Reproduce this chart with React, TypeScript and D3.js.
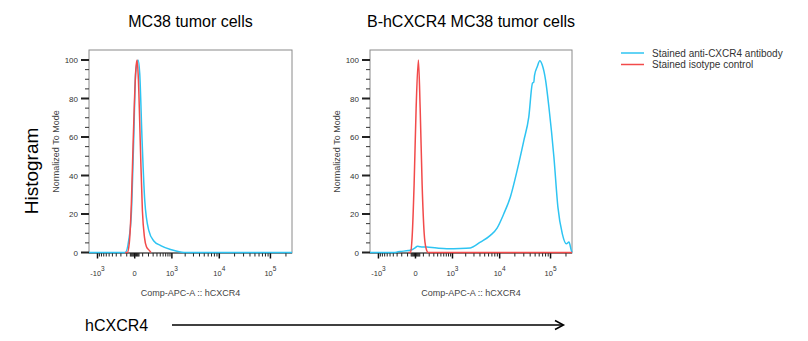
import React from "react";
import * as d3 from "d3";

const W = 808;
const H = 341;

const panelTitles = ["MC38 tumor cells", "B-hCXCR4 MC38 tumor cells"];
const seriesNames = ["Stained anti-CXCR4 antibody", "Stained isotype control"];
const seriesColors = ["#2ec4f2", "#f24a4a"];
const xDomain = [-1570, 262144];
const xMajorTicks = [-1000, 0, 1000, 10000, 100000];
const xTickBase = ["-10", "0", "10", "10", "10"];
const xTickExp = ["3", "", "3", "4", "5"];
const yMajorTicks = [0, 20, 40, 60, 80, 100];
const yMinorTicks = [5, 10, 15, 25, 30, 35, 45, 50, 55, 65, 70, 75, 85, 90, 95];
const xTitle = "Comp-APC-A :: hCXCR4";
const yTitle = "Normalized To Mode";

// Panel 1: MC38 tumor cells
const mc38AntiX = [-1570, -123, -73, -38, -11, 10, 38, 59, 92, 133, 205, 316, 515, 980, 1890, 262144];
const mc38AntiY = [0, 0, 6, 20, 58, 93, 100, 93, 58, 27, 11.5, 6, 3.6, 1.4, 0, 0];
const mc38IsoX = [-123, -92, -64, -38, -15, 12, 26, 42, 68, 96, 128, 162, 220, 249];
const mc38IsoY = [0, 0, 5, 25, 60, 95, 100, 90, 55, 22, 8, 3, 1, 0];

// Panel 2: B-hCXCR4 MC38 tumor cells
const hAntiX = [-1570, -917, -500, -352, -309, -234, -88, -42, -4, 22, 55, 157, 379, 728, 1517, 2510, 4070, 6517, 8885, 12040, 16370, 22200, 29960, 37600, 44400, 47100, 48650, 55000, 61800, 68900, 80000, 92800, 116300, 139200, 169800, 203300, 228400, 254500, 262144];
const hAntiY = [0, 0, 0, 0, 0.2, 0.5, 1, 1.4, 2.4, 3.3, 3, 2.8, 2.3, 2, 2.1, 2.4, 5.4, 8.9, 12.7, 20, 29, 42.7, 58, 70.5, 88, 88.5, 92, 96.5, 99.6, 97.4, 89.6, 75.7, 49.6, 23.6, 9.7, 4.5, 5.4, 1, 0];
const hIsoX = [-88, -57, -38, -15, 7, 33, 55, 82, 112, 144, 181, 262144];
const hIsoY = [0, 0, 8, 35, 75, 100, 75, 35, 10, 2, 0, 0];

const panelData = [
  { anti: [mc38AntiX, mc38AntiY], iso: [mc38IsoX, mc38IsoY] },
  { anti: [hAntiX, hAntiY], iso: [hIsoX, hIsoY] },
];

const FONT = "'Liberation Sans', Arial, Helvetica, sans-serif";

function minorXTicks(): number[] {
  const out: number[] = [];
  for (const d of [10, 100, 1000, 10000, 100000]) {
    for (let k = 1; k <= 9; k++) {
      if (d === 10 && k > 5) continue;
      const v = k * d;
      if (!xMajorTicks.includes(v) && v <= xDomain[1]) out.push(v);
      if (!xMajorTicks.includes(-v) && -v >= xDomain[0]) out.push(-v);
    }
  }
  return out;
}

function Panel({ left, right, idx }: { left: number; right: number; idx: number }) {
  const top = 50;
  const bottom = 253;
  const x = d3.scaleSymlog().constant(235).domain(xDomain).range([left, right]);
  const y = d3.scaleLinear().domain([0, 100]).range([252.5, 60]);
  const line = d3
    .line<[number, number]>()
    .x((d) => x(d[0]))
    .y((d) => y(d[1]))
    .curve(d3.curveMonotoneX);
  const data = panelData[idx];
  const mk = (arr: number[][]) => arr[0].map((v, i) => [v, arr[1][i]] as [number, number]);
  const cx = (left + right) / 2;
  const minors = minorXTicks();
  return (
    <g>
      <text x={cx} y={27} textAnchor="middle" fontSize={16} fontFamily={FONT} fill="#000">
        {panelTitles[idx]}
      </text>
      <rect x={left} y={top} width={right - left} height={bottom - top} fill="none" stroke="#8a8a8a" strokeWidth={1} />
      <line x1={left} x2={right} y1={bottom} y2={bottom} stroke="#333" strokeWidth={1} />
      {yMinorTicks.map((t) => (
        <line key={"ym" + t} x1={left - 4} x2={left} y1={y(t)} y2={y(t)} stroke="#333" strokeWidth={1} />
      ))}
      {yMajorTicks.map((t) => (
        <g key={"yM" + t}>
          <line x1={left - 8} x2={left} y1={y(t)} y2={y(t)} stroke="#222" strokeWidth={2} />
          <text x={left - 11} y={y(t) + 3} textAnchor="end" fontSize={8} fontFamily={FONT} fill="#333">
            {t}
          </text>
        </g>
      ))}
      <text
        transform={`translate(${left - 30},${(top + bottom) / 2}) rotate(-90)`}
        textAnchor="middle"
        fontSize={9}
        fontFamily={FONT}
        fill="#444"
      >
        {yTitle}
      </text>
      {minors.map((t) => (
        <line key={"xm" + t} x1={x(t)} x2={x(t)} y1={bottom} y2={bottom + 3.5} stroke="#222" strokeWidth={1} />
      ))}
      {xMajorTicks.map((t, i) => (
        <g key={"xM" + t}>
          <line x1={x(t)} x2={x(t)} y1={bottom} y2={bottom + 5.5} stroke="#111" strokeWidth={1.5} />
          <text x={x(t)} y={276} textAnchor="middle" fontSize={7.5} fontFamily={FONT} fill="#333">
            {xTickBase[i]}
            {xTickExp[i] ? (
              <tspan dy={-5} fontSize={6.5}>
                {xTickExp[i]}
              </tspan>
            ) : null}
          </text>
        </g>
      ))}
      <text x={cx} y={296} textAnchor="middle" fontSize={9} fontFamily={FONT} fill="#444">
        {xTitle}
      </text>
      <path d={line(mk(data.anti)) || ""} fill="none" stroke={seriesColors[0]} strokeWidth={1.5} />
      <path d={line(mk(data.iso)) || ""} fill="none" stroke={seriesColors[1]} strokeWidth={1.5} />
    </g>
  );
}

export default function App() {
  return (
    <svg width={W} height={H} style={{ display: "block", position: "absolute", left: 0, top: 0, background: "#fff" }}>
      <rect x={0} y={0} width={W} height={H} fill="#fff" />
      <text transform="translate(38,171) rotate(-90)" textAnchor="middle" fontSize={19} fontFamily={FONT} fill="#000">
        Histogram
      </text>
      <Panel left={89} right={292} idx={0} />
      <Panel left={370} right={572} idx={1} />
      {seriesNames.map((n, i) => (
        <g key={n}>
          <line x1={621} x2={644} y1={53 + i * 11.5} y2={53 + i * 11.5} stroke={seriesColors[i]} strokeWidth={1.5} />
          <text x={652} y={56.5 + i * 11.5} fontSize={10} fontFamily={FONT} fill="#333">
            {n}
          </text>
        </g>
      ))}
      <text x={85} y={331} fontSize={16} fontFamily={FONT} fill="#000">
        hCXCR4
      </text>
      <line x1={172} x2={563} y1={325} y2={325} stroke="#000" strokeWidth={1.5} />
      <path d="M555,320.5 L563.5,325 L555,329.5" fill="none" stroke="#000" strokeWidth={1.5} />
    </svg>
  );
}
